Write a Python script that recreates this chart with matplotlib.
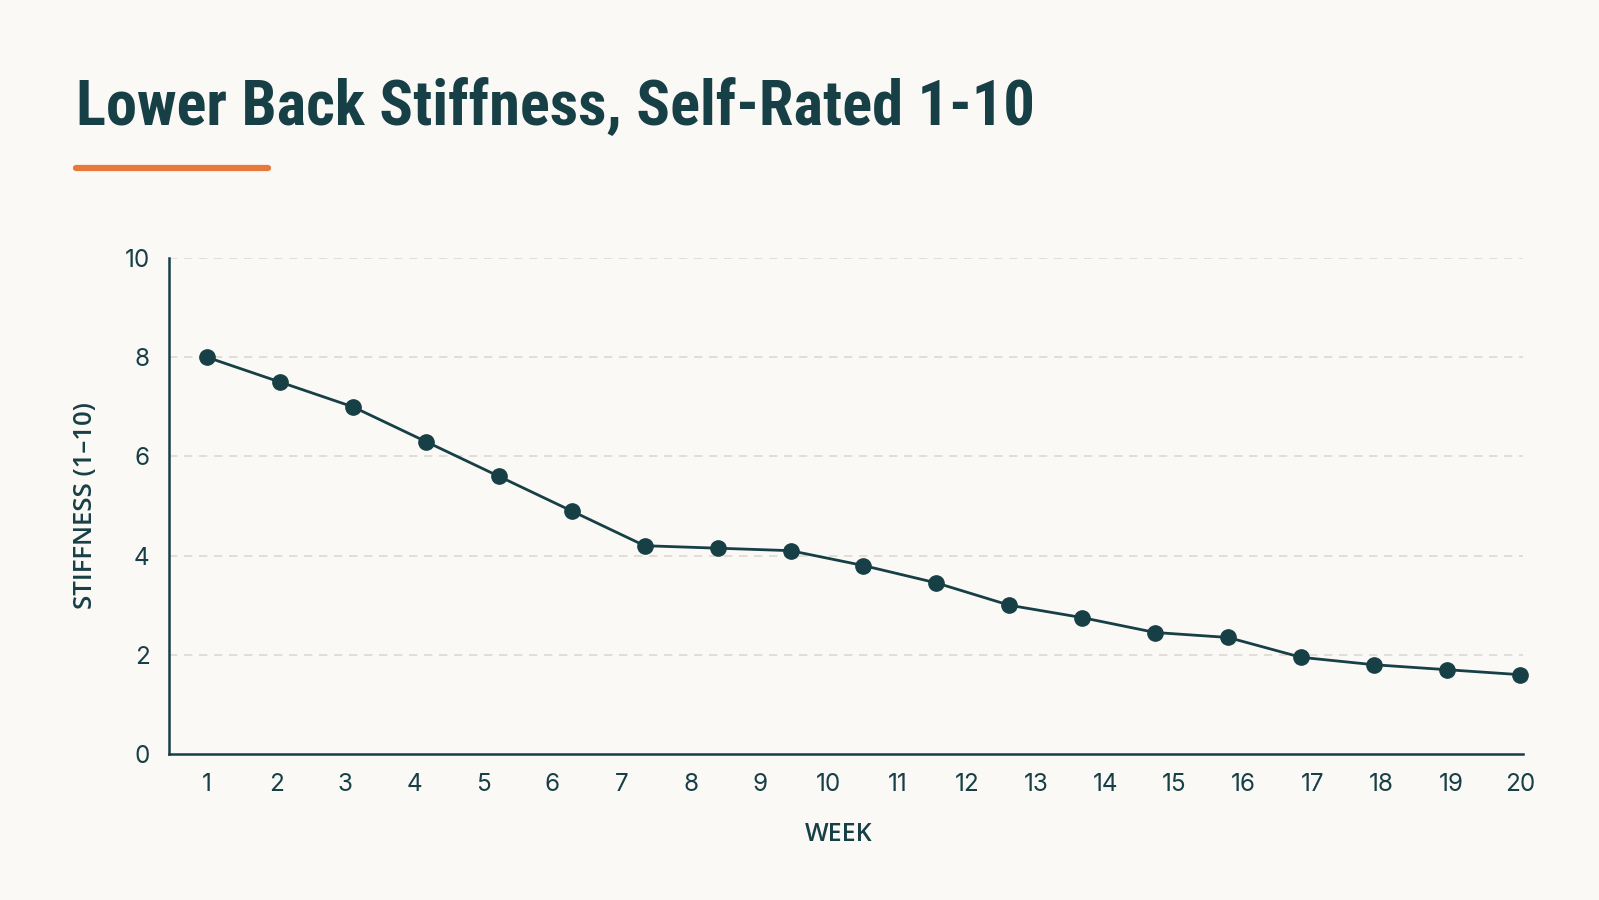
import matplotlib
matplotlib.use("Agg")
import matplotlib.pyplot as plt
import numpy as np

# values (19 points spread across weeks 1-20)
week_labels = [str(w) for w in range(1, 21)]
stiffness = [8.0, 7.5, 7.0, 6.3, 5.6, 4.9, 4.2, 4.15, 4.1, 3.8,
             3.45, 3.0, 2.75, 2.45, 2.35, 1.95, 1.8, 1.7, 1.6]
y_ticks = [0, 2, 4, 6, 8, 10]

bg = "#fbf9f5"
ink = "#173f46"
grid_col = "#dcd9d3"
accent = "#e8793a"

plt.rcParams['font.family'] = ['Inter', 'DejaVu Sans']

fig = plt.figure(figsize=(15.99, 9.0), dpi=100, facecolor=bg)
ax = fig.add_axes([0.1057, 0.1622, 0.847, 0.5511])
ax.set_facecolor(bg)

x_pos = np.linspace(1, 20, len(stiffness))
ax.plot(x_pos, stiffness, color=ink, linewidth=2.0, marker='o',
        markersize=11, markerfacecolor=ink, markeredgecolor=ink,
        zorder=3, clip_on=False)

ax.set_xlim(0.45, 20.05)
ax.set_ylim(0, 10)
ax.set_xticks(range(1, 21))
ax.set_xticklabels(week_labels)
ax.set_yticks(y_ticks)

for y in y_ticks[1:]:
    ax.axhline(y, color=grid_col, linewidth=1.2, linestyle=(0, (5, 4)), zorder=1)

for s in ['top', 'right']:
    ax.spines[s].set_visible(False)
for s in ['left', 'bottom']:
    ax.spines[s].set_color(ink)
    ax.spines[s].set_linewidth(1.8)

ax.tick_params(axis='both', length=0, labelsize=17.5, labelcolor=ink)
ax.tick_params(axis='x', pad=14)
ax.tick_params(axis='y', pad=14)

ax.set_xlabel("WEEK", fontsize=18, fontweight='semibold', color=ink,
              family=['Open Sans', 'DejaVu Sans'])
ax.xaxis.set_label_coords(0.4945, -0.138)
ax.set_ylabel("STIFFNESS (1–10)", fontsize=18.5, fontweight='semibold', color=ink,
              family=['Open Sans', 'DejaVu Sans'], labelpad=19)

fig.text(0.0475, 0.881, "Lower Back Stiffness, Self-Rated 1-10", fontsize=45,
         fontweight='bold', fontstretch='condensed', color=ink,
         va='center', ha='left',
         family=['Roboto Condensed', 'Roboto', 'DejaVu Sans'])
fig.add_artist(plt.Line2D([0.0475, 0.1676], [0.8133, 0.8133], color=accent,
                          linewidth=4.5, solid_capstyle='round'))

fig.savefig("out.png", dpi=100, facecolor=bg)
